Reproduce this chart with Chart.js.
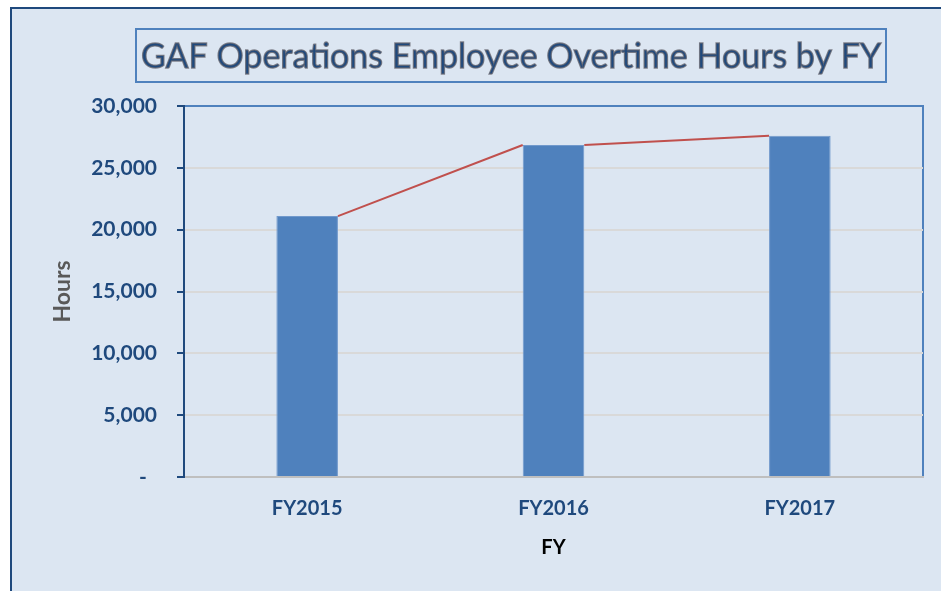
<!DOCTYPE html>
<html>
<head>
<meta charset="utf-8">
<script src="https://cdn.jsdelivr.net/npm/chart.js@4"></script>
<style>
  html, body { margin: 0; padding: 0; background: #fff; }
  canvas { display: block; }
</style>
</head>
<body>
<canvas id="otChart" width="941" height="591"></canvas>
<script>
const categories = ['FY2015', 'FY2016', 'FY2017'];
const overtimeHours = [21100, 26850, 27600];
const yMax = 30000;
const yStep = 5000;
const chartTitle = 'GAF Operations Employee Overtime Hours by FY';

// frame, page background and plot border
const backdrop = {
  id: 'backdrop',
  beforeDraw(chart) {
    const ctx = chart.ctx;
    const a = chart.chartArea;
    ctx.save();
    ctx.fillStyle = '#ffffff';
    ctx.fillRect(0, 0, chart.width, chart.height);
    ctx.fillStyle = '#dce6f2';
    ctx.fillRect(11, 8, chart.width - 11, chart.height - 8);
    ctx.fillStyle = '#1f497d';
    ctx.fillRect(10, 7, 2, chart.height - 7);
    ctx.fillRect(10, 7, chart.width - 10, 2);
    ctx.strokeStyle = '#4f81bd';
    ctx.lineWidth = 2;
    ctx.strokeRect(a.left, a.top, a.right - a.left, a.bottom - a.top);
    ctx.restore();
  },
  afterDraw(chart) {
    const ctx = chart.ctx;
    ctx.save();
    ctx.strokeStyle = '#4f81bd';
    ctx.lineWidth = 2;
    ctx.strokeRect(136, 29, 750, 53);
    ctx.font = '34px Lato';
    ctx.textAlign = 'center';
    ctx.textBaseline = 'middle';
    ctx.fillStyle = '#1f497d';
    ctx.fillText(chartTitle, 511, 57);
    ctx.strokeStyle = 'rgba(100,100,110,0.75)';
    ctx.lineWidth = 1.3;
    ctx.strokeText(chartTitle, 511, 57);
    ctx.restore();
  }
};

// series lines joining the bar tops
const seriesLines = {
  id: 'seriesLines',
  afterDatasetsDraw(chart) {
    const bars = chart.getDatasetMeta(0).data;
    const ctx = chart.ctx;
    ctx.save();
    ctx.strokeStyle = '#c0504d';
    ctx.lineWidth = 2;
    ctx.beginPath();
    for (let i = 0; i < bars.length - 1; i++) {
      const a = bars[i], b = bars[i + 1];
      ctx.moveTo(a.x + a.width / 2, a.y);
      ctx.lineTo(b.x - b.width / 2, b.y);
    }
    ctx.stroke();
    ctx.restore();
  }
};

new Chart(document.getElementById('otChart'), {
  type: 'bar',
  data: {
    labels: categories,
    datasets: [{
      label: 'Overtime Hours',
      data: overtimeHours,
      backgroundColor: '#4f81bd',
      borderColor: '#7199cc',
      borderWidth: 1,
      barPercentage: 0.25,
      categoryPercentage: 1
    }]
  },
  options: {
    responsive: false,
    animation: false,
    layout: { padding: { left: 0, top: 106, right: 18, bottom: 0 } },
    plugins: {
      legend: { display: false },
      tooltip: { enabled: false }
    },
    scales: {
      x: {
        afterFit(axis) { axis.height = 114; },
        grid: { display: false, drawTicks: false },
        border: { display: true, color: '#bfbfbf', width: 2 },
        ticks: {
          padding: 20,
          color: '#1f497d',
          font: { family: 'Lato', size: 20, weight: 'bold' }
        },
        title: {
          display: true,
          text: 'FY',
          color: '#000000',
          padding: { top: 0, bottom: 31 },
          font: { family: 'Lato', size: 20, weight: 'bold' }
        }
      },
      y: {
        min: 0,
        max: yMax,
        afterFit(axis) { axis.width = 184; },
        grid: {
          color: ctx => (ctx.tick && ctx.tick.value === yMax) ? 'rgba(0,0,0,0)' : '#d9d9d9',
          lineWidth: 2,
          tickLength: 7,
          tickColor: '#1f497d',
          tickWidth: 2
        },
        border: { display: true, color: '#1f497d', width: 2 },
        ticks: {
          stepSize: yStep,
          padding: 20,
          color: '#1f497d',
          font: { family: 'Lato', size: 21, weight: 'bold' },
          callback: v => v === 0 ? '-  ' : v.toLocaleString('en-US')
        },
        title: {
          display: true,
          text: 'Hours',
          color: '#595959',
          padding: { top: 49, bottom: 0 },
          font: { family: 'Lato', size: 23, weight: 'bold' }
        }
      }
    }
  },
  plugins: [backdrop, seriesLines]
});
</script>
</body>
</html>
